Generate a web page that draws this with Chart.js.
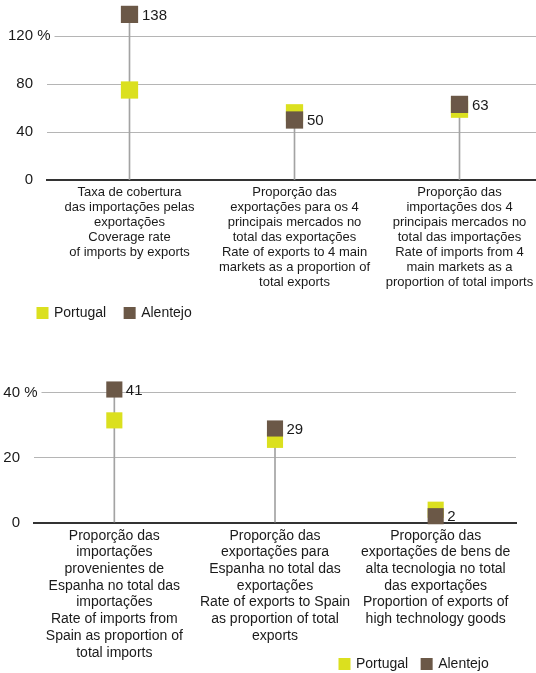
<!DOCTYPE html>
<html><head><meta charset="utf-8">
<script src="https://cdn.jsdelivr.net/npm/chart.js@4.4.1/dist/chart.umd.min.js"></script>
<style>
html,body{margin:0;padding:0;background:#fff;overflow:hidden;width:536px;height:673px;position:relative;}
#c1{position:absolute;left:0;top:0;}
#c2{position:absolute;left:0;top:340px;}
</style></head><body>
<canvas id="c1" width="545" height="340"></canvas>
<canvas id="c2" width="536" height="380"></canvas>
<script>
const seriesNames = ['Portugal', 'Alentejo'];
const seriesColors = ['#dbe01f', '#6b5847'];

const topCategories = [
  ['Taxa de cobertura', 'das importações pelas', 'exportações', 'Coverage rate', 'of imports by exports'],
  ['Proporção das', 'exportações para os 4', 'principais mercados no', 'total das exportações', 'Rate of exports to 4 main', 'markets as a proportion of', 'total exports'],
  ['Proporção das', 'importações dos 4', 'principais mercados no', 'total das importações', 'Rate of imports from 4', 'main markets as a', 'proportion of total imports']
];
const topPortugal = [75, 56, 59];
const topAlentejo = [138, 50, 63];
const topTicks = [0, 40, 80, 120];

const bottomCategories = [
  ['Proporção das', 'importações', 'provenientes de', 'Espanha no total das', 'importações', 'Rate of imports from', 'Spain as proportion of', 'total imports'],
  ['Proporção das', 'exportações para', 'Espanha no total das', 'exportações', 'Rate of exports to Spain', 'as proportion of total', 'exports'],
  ['Proporção das', 'exportações de bens de', 'alta tecnologia no total', 'das exportações', 'Proportion of exports of', 'high technology goods']
];
const bottomPortugal = [31.5, 25.5, 4];
const bottomAlentejo = [41, 29, 2];
const bottomTicks = [0, 20, 40];
const tickSuffix = ' %';

const FONT = "'Liberation Sans', Arial, sans-serif";
const TEXT = '#1a1a1a';
const Y_GAP = 14;

const valueLabels = {
  id: 'valueLabels',
  afterDatasetsDraw(chart, args, opts) {
    const ctx = chart.ctx;
    const meta = chart.getDatasetMeta(opts.datasetIndex);
    const data = chart.data.datasets[opts.datasetIndex].data;
    ctx.save();
    ctx.font = '15px ' + FONT;
    ctx.fillStyle = TEXT;
    ctx.textAlign = 'left';
    ctx.textBaseline = 'middle';
    meta.data.forEach((pt, i) => {
      ctx.fillText(String(data[i]), pt.x + opts.dx, pt.y + 1);
    });
    ctx.restore();
  }
};

const pctSuffix = {
  id: 'pctSuffix',
  afterDraw(chart) {
    const s = chart.scales.y;
    const ticks = s.ticks;
    const top = ticks[ticks.length - 1];
    const y = s.getPixelForValue(top.value);
    const ctx = chart.ctx;
    ctx.save();
    ctx.font = '15px ' + FONT;
    const xEnd = s.right - Y_GAP;
    const sufW = ctx.measureText(tickSuffix).width;
    ctx.fillStyle = '#fff';
    ctx.fillRect(chart.chartArea.left, y - 2, xEnd + sufW + 4 - chart.chartArea.left, 4);
    ctx.fillStyle = TEXT;
    ctx.textAlign = 'left';
    ctx.textBaseline = 'middle';
    ctx.fillText(tickSuffix, xEnd, y);
    ctx.restore();
  }
};

const legendPos = {
  id: 'legendPos',
  afterLayout(chart, args, opts) {
    const lg = chart.legend;
    if (!lg) return;
    const dx = opts.left - lg.left, dy = opts.top - lg.top;
    lg.left += dx; lg.right += dx; lg.top += dy; lg.bottom += dy;
  }
};

function makeChart(el, cfg) {
  const dropData = cfg.categories.map((_, i) => [0, Math.max(cfg.portugal[i], cfg.alentejo[i])]);
  const chart = new Chart(el, {
    type: 'bar',
    data: {
      labels: cfg.categories,
      datasets: [
        { type: 'bar', label: 'drop', data: dropData, backgroundColor: '#a3a3a3', barThickness: 1, order: 3 },
        { type: 'line', label: seriesNames[0], data: cfg.portugal, showLine: false, pointStyle: 'rect',
          pointRadius: cfg.radius, pointHoverRadius: cfg.radius, pointBorderWidth: 0,
          backgroundColor: seriesColors[0], borderColor: seriesColors[0], order: 2, clip: false },
        { type: 'line', label: seriesNames[1], data: cfg.alentejo, showLine: false, pointStyle: 'rect',
          pointRadius: cfg.radius, pointHoverRadius: cfg.radius, pointBorderWidth: 0,
          backgroundColor: seriesColors[1], borderColor: seriesColors[1], order: 1, clip: false }
      ]
    },
    options: {
      responsive: false,
      animation: false,
      events: [],
      devicePixelRatio: 1,
      layout: { autoPadding: false, padding: { top: cfg.padTop, right: cfg.padRight, left: 0, bottom: 0 } },
      scales: {
        x: {
          grid: { display: false, drawTicks: false },
          border: { display: true, color: '#333', width: 2 },
          ticks: { color: TEXT, font: { family: FONT, size: cfg.catFont, lineHeight: cfg.catLH },
                   padding: cfg.catPad, maxRotation: 0, minRotation: 0, autoSkip: false },
          afterFit: s => { s.height = cfg.xH; }
        },
        y: {
          min: 0, max: cfg.max,
          afterBuildTicks: s => { s.ticks = cfg.ticks.map(v => ({ value: v })); },
          grid: { drawTicks: true, tickLength: Y_GAP, tickColor: 'rgba(0,0,0,0)',
                  color: c => (c.tick && c.tick.value === 0) ? '#333' : '#b5b5b5', lineWidth: 1 },
          border: { display: false },
          ticks: { color: TEXT, font: { family: FONT, size: 15 }, padding: 0 },
          afterFit: s => { s.width = cfg.yW; }
        }
      },
      plugins: {
        tooltip: { enabled: false },
        legend: {
          display: true, position: 'bottom', align: 'start',
          labels: { filter: it => it.datasetIndex !== 0, sort: (a, b) => a.datasetIndex - b.datasetIndex,
                    boxWidth: 9, boxHeight: 9,
                    padding: cfg.legPad, color: TEXT, font: { family: FONT, size: 14 } }
        },
        valueLabels: { datasetIndex: 2, dx: cfg.dx },
        legendPos: { left: cfg.legLeft, top: cfg.legTop }
      }
    },
    plugins: [valueLabels, pctSuffix, legendPos]
  });
  // fine-tune the plot area to the intended frame
  for (let k = 0; k < 2; k++) {
    const a = chart.chartArea;
    const p = chart.options.layout.padding;
    p.top += cfg.areaTop - a.top;
    p.right += a.right - cfg.areaRight;
    chart.update();
  }
  return chart;
}

makeChart(document.getElementById('c1'), {
  categories: topCategories, portugal: topPortugal, alentejo: topAlentejo, ticks: topTicks,
  max: 140, radius: 12.2, padTop: 12, padRight: 3, areaTop: 12, areaRight: 542,
  catFont: 13, catLH: 15 / 13, catPad: 5,
  xH: 117, yW: 47, legPad: 19, legLeft: 19, legTop: 287, dx: 12.5
});

makeChart(document.getElementById('c2'), {
  categories: bottomCategories, portugal: bottomPortugal, alentejo: bottomAlentejo, ticks: bottomTicks,
  max: 45, radius: 11.4, padTop: 36.5, padRight: 20, areaTop: 36.5, areaRight: 516,
  catFont: 14, catLH: 16.7 / 14, catPad: 4.7,
  xH: 159.3, yW: 34, legPad: 14, legLeft: 326, legTop: 303, dx: 11.5
});
</script>
</body></html>
